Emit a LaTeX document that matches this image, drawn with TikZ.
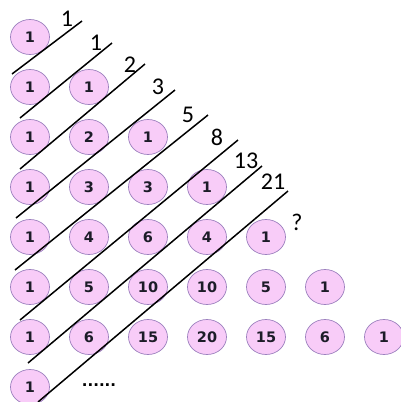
\documentclass[tikz,border=0pt]{standalone}
\usepackage{fontspec}
\setmainfont{Carlito}
\newfontfamily\cellfont{DejaVu Sans Bold}
\definecolor{cellfill}{HTML}{F8CCF8}
\definecolor{celldraw}{HTML}{9C80BE}
\definecolor{celltext}{HTML}{1C1C28}
\newcommand{\celltxt}{\cellfont\fontsize{14.5pt}{14.5pt}\selectfont}
\newcommand{\dotstxt}{\cellfont\fontsize{15pt}{15pt}\selectfont}
\newcommand{\sumtxt}{\fontsize{24pt}{24pt}\selectfont}
\tikzset{
  cell/.style={ellipse, minimum width=39pt, minimum height=35pt, inner sep=0pt,
    fill=cellfill, draw=celldraw, line width=0.7pt, text=celltext,
    font=\celltxt},
  diag/.style={line width=1.5pt, black},
  sumlabel/.style={inner sep=0pt, font=\sumtxt}
}
\usetikzlibrary{shapes.geometric}
\begin{document}
\begin{tikzpicture}[x=1pt,y=-1pt]
\useasboundingbox (0,0) rectangle (400,402);
% Pascal triangle cells
\foreach \r/\vals in {0/{1},1/{1,1},2/{1,2,1},3/{1,3,3,1},4/{1,4,6,4,1},5/{1,5,10,10,5,1},6/{1,6,15,20,15,6,1},7/{1}}{
  \foreach \v [count=\c from 0] in \vals {
    \node[cell] (e-\r-\c) at ({30+59*\c},{37+50*\r}) {\v};
  }
}
\node[inner sep=0pt, font=\dotstxt] (dots) at (99,385) {......};
% diagonal lines
\coordinate (a1) at (12,74);  \coordinate (b1) at (82,21);
\coordinate (a2) at (20,118); \coordinate (b2) at (112,43);
\coordinate (a3) at (20,169); \coordinate (b3) at (145,64);
\coordinate (a4) at (16,218); \coordinate (b4) at (175,90);
\coordinate (a5) at (15,270); \coordinate (b5) at (208,115);
\coordinate (a6) at (20,320); \coordinate (b6) at (238,140);
\coordinate (a7) at (28,363); \coordinate (b7) at (262,166);
\coordinate (a8) at (38,402); \coordinate (b8) at (288,191);
\foreach \i in {1,...,8} { \draw[diag] (a\i) -- (b\i); }
% sums
\node[sumlabel] (s1) at (67,19) {1};
\node[sumlabel] (s2) at (96,43) {1};
\node[sumlabel] (s3) at (130,65) {2};
\node[sumlabel] (s4) at (158,87) {3};
\node[sumlabel] (s5) at (188,115) {5};
\node[sumlabel] (s6) at (217,137) {8};
\node[sumlabel] (s7) at (246,161) {13};
\node[sumlabel] (s8) at (273,182) {21};
\node[sumlabel] (s9) at (297,222) {?};
\end{tikzpicture}
\end{document}
